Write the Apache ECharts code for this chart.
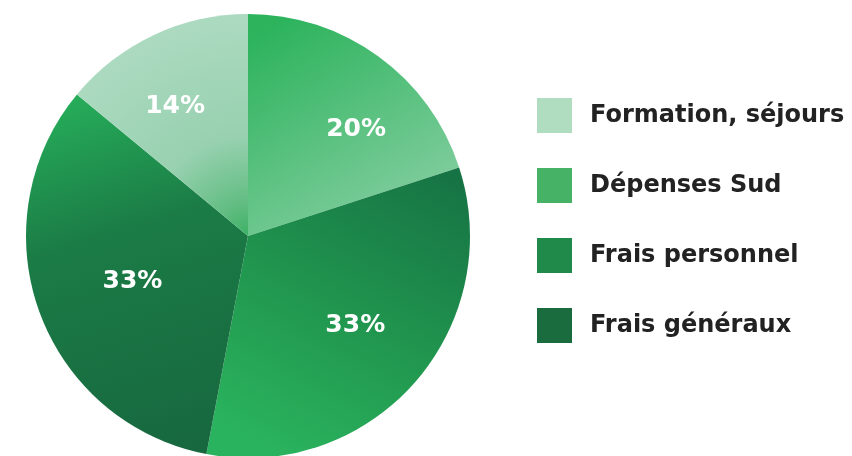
<!DOCTYPE html>
<html><head><meta charset="utf-8">
<script src="https://cdn.jsdelivr.net/npm/echarts@6/dist/echarts.min.js"></script>
<style>html,body{margin:0;padding:0;background:#fff}#c{width:852px;height:456px}</style>
</head><body><div id="c"></div>
<script>
const categories = ['Dépenses Sud', 'Frais personnel', 'Frais généraux', 'Formation, séjours'];
const values = [20, 33, 33, 14];
const legendOrder = ['Formation, séjours', 'Dépenses Sud', 'Frais personnel', 'Frais généraux'];
const legendColors = {'Formation, séjours':'#b0dcbf','Dépenses Sud':'#45b266','Frais personnel':'#208a4a','Frais généraux':'#1a6b3e'};

const fills = {
  'Dépenses Sud': new echarts.graphic.LinearGradient(0.2,0,0.8,1,[{offset:0,color:'#2cb35c'},{offset:1,color:'#8ad0a5'}]),
  'Frais personnel': new echarts.graphic.LinearGradient(0.9,0,0.3,1,[{offset:0,color:'#167344'},{offset:0.6,color:'#229a50'},{offset:1,color:'#2ab35e'}]),
  'Frais généraux': new echarts.graphic.LinearGradient(0.1,0,0.6,1,[{offset:0,color:'#27b05b'},{offset:0.4,color:'#1b7c46'},{offset:1,color:'#17683f'}]),
  'Formation, séjours': new echarts.graphic.RadialGradient(1,1,1.3,[{offset:0,color:'#3cb065'},{offset:0.15,color:'#62bd82'},{offset:0.45,color:'#98d1b0'},{offset:1,color:'#acdac0'}])
};
const labelNudge = {'Dépenses Sud':[24,9],'Frais personnel':[0,-5],'Frais généraux':[19,-3],'Formation, séjours':[-12,0]};

const chart = echarts.init(document.getElementById('c'), null, {renderer:'canvas'});
chart.setOption({
  animation:false,
  legend:{
    orient:'vertical', left:537, top:98, padding:0, itemWidth:35, itemHeight:35, itemGap:35,
    icon:'rect', selectedMode:false,
    data: legendOrder.map(n=>({name:n, itemStyle:{color:legendColors[n]}})),
    textStyle:{fontFamily:'DejaVu Sans', fontWeight:'bold', fontSize:24, color:'#222', padding:[0,0,0,13]}
  },
  series:[{
    type:'pie', center:[248,236], radius:[0,222], startAngle:90, clockwise:true,
    label:{show:false}, labelLine:{show:false}, silent:true,
    itemStyle:{borderWidth:0},
    data: categories.map((n,i)=>({name:n, value:values[i], itemStyle:{color:fills[n]}}))
  },{
    type:'pie', center:[248,236], radius:[0,280], startAngle:90, clockwise:true, silent:true,
    legendHoverLink:false,
    itemStyle:{color:'rgba(0,0,0,0)'}, labelLine:{show:false},
    label:{show:true, position:'inside', formatter:'{c}%', color:'#fff', fontFamily:'DejaVu Sans', fontWeight:'bold', fontSize:25},
    data: categories.map((n,i)=>({name:n+' ', value:values[i], label:{offset:labelNudge[n]}}))
  }]
});
</script></body></html>
